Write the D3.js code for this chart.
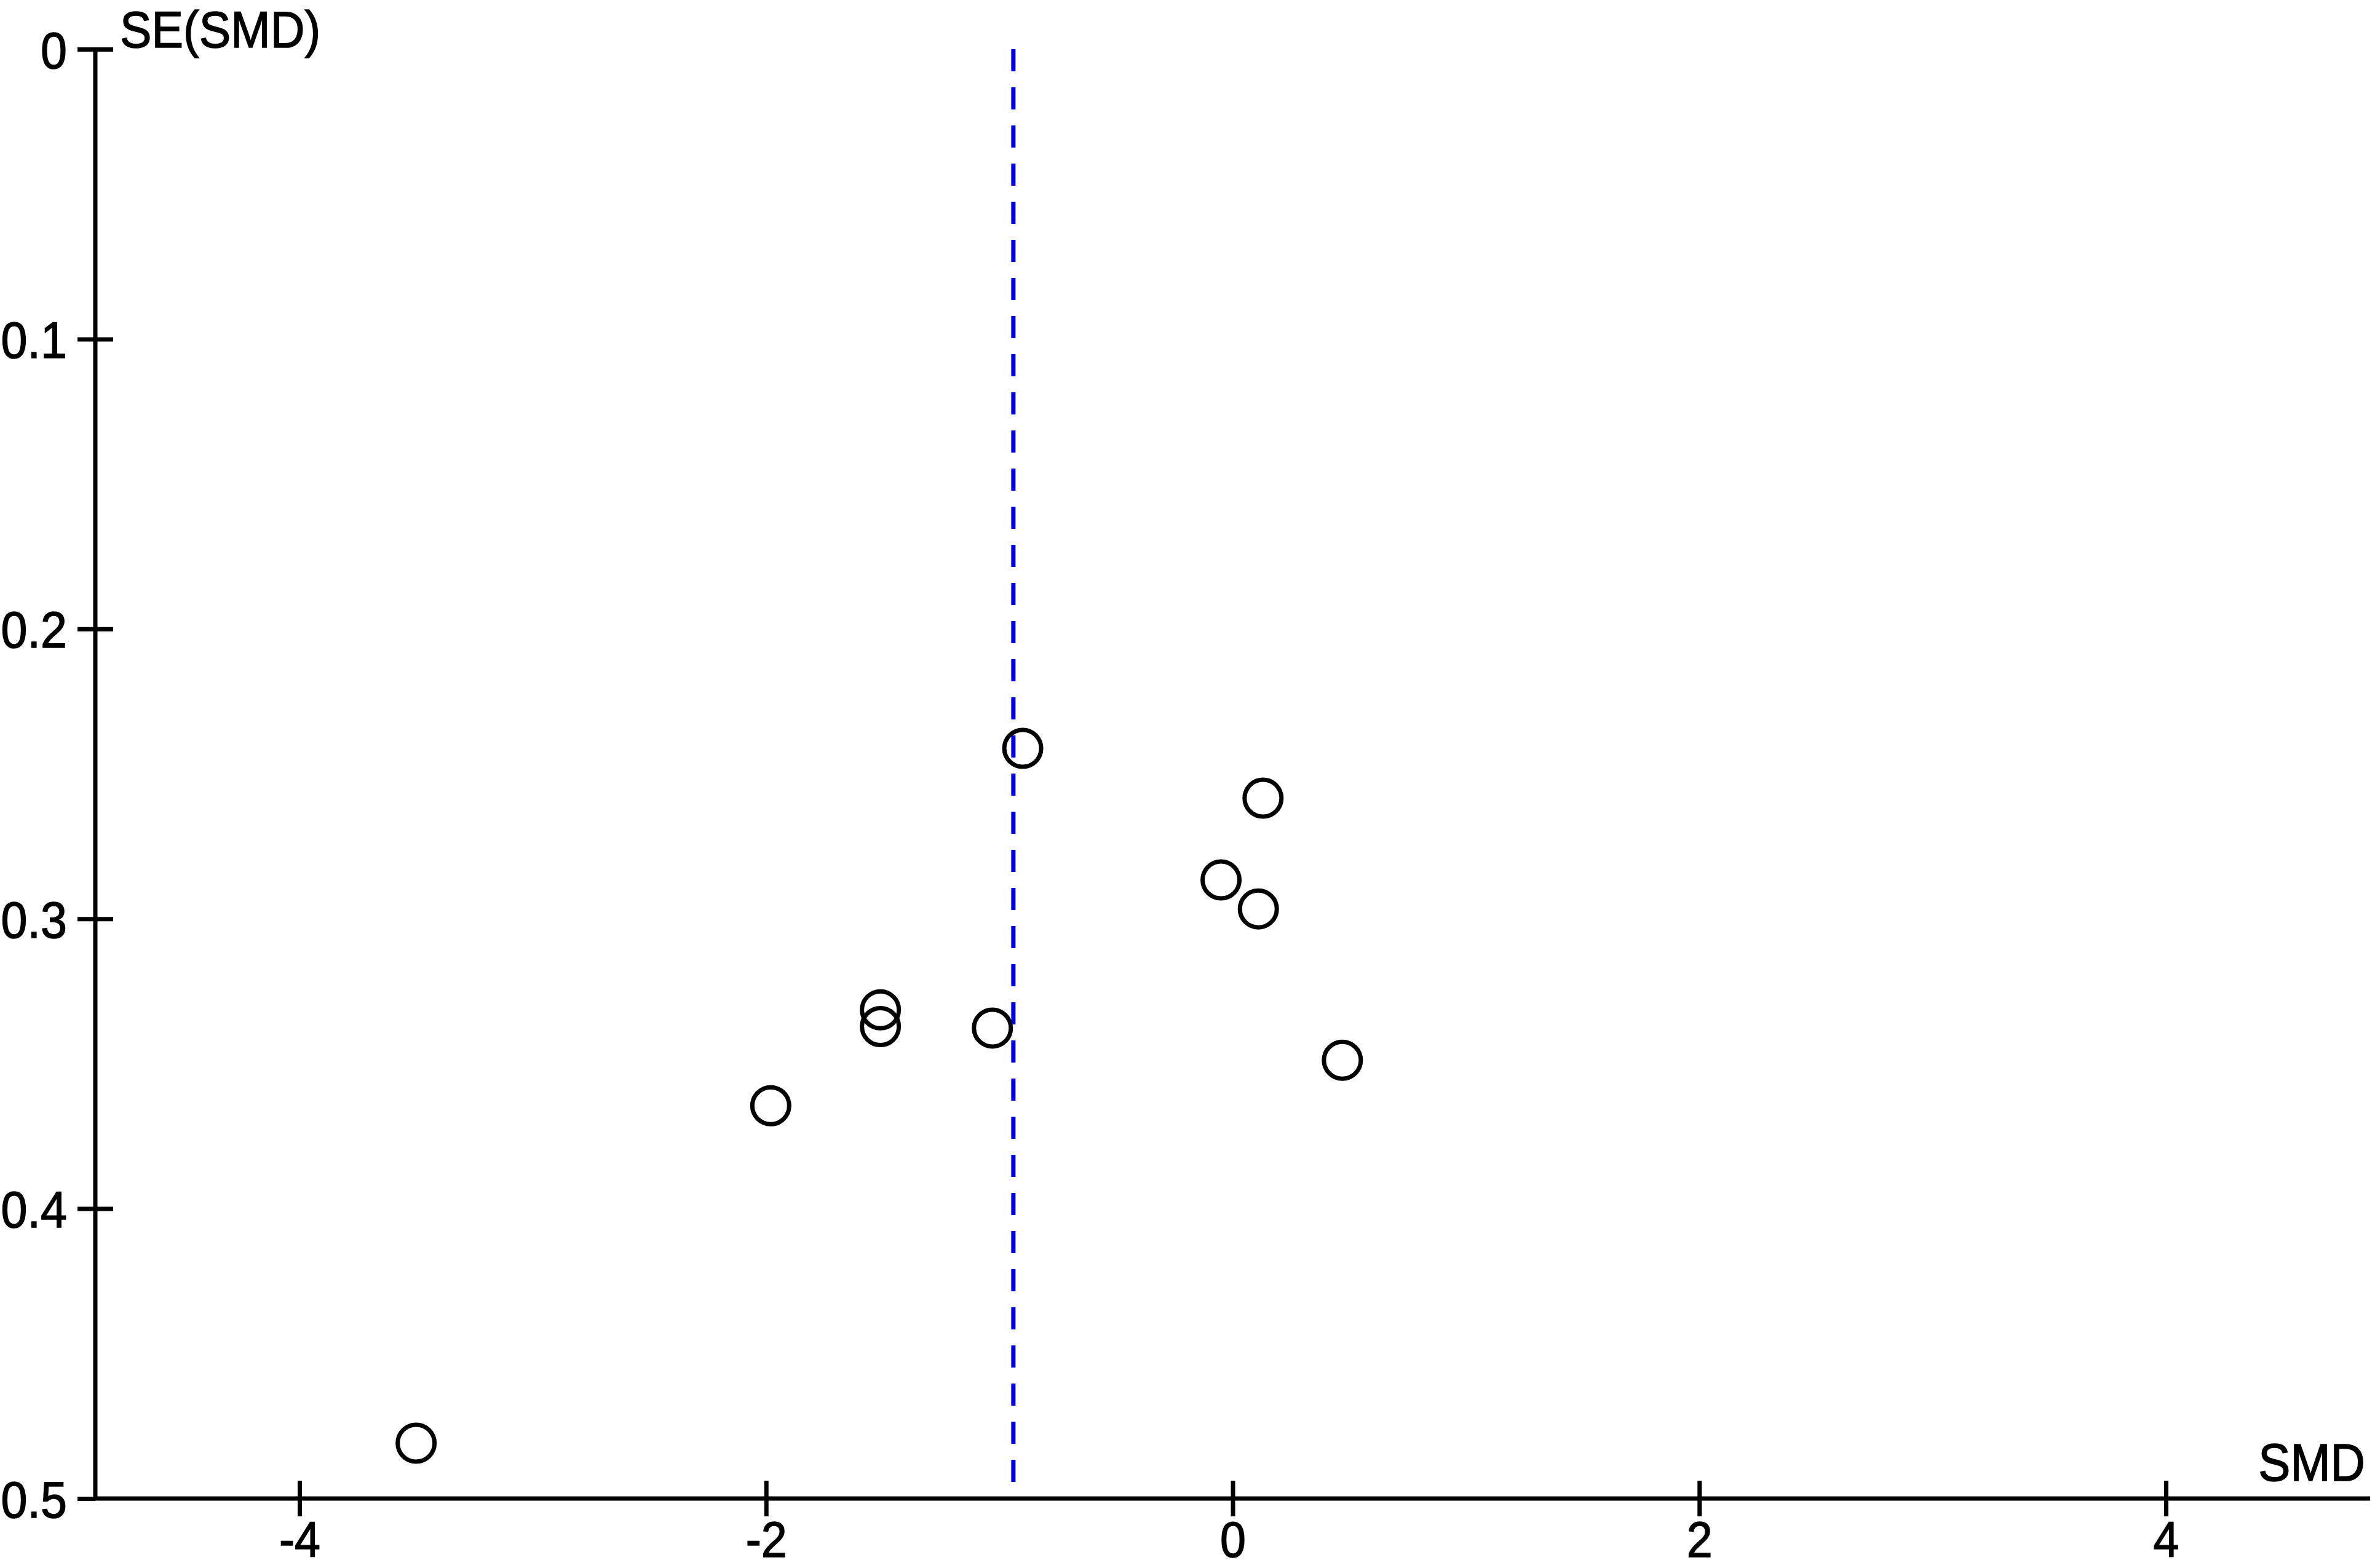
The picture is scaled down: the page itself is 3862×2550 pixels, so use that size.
<!DOCTYPE html>
<html>
<head>
<meta charset="utf-8">
<title>Funnel plot</title>
<script src="https://cdn.jsdelivr.net/npm/d3@7"></script>
<style>
    body { margin: 0; background: #fff; }
    svg { display: block; }
    text { font-family: "Liberation Sans", Arial, sans-serif; fill: #000; stroke: #000; stroke-width: 1.5px; }
</style>
</head>
<body>
<svg id="funnel" width="3862" height="2550"></svg>
<script>
// study estimates
const smd = [-0.90, 0.13, -0.05, 0.11, 0.47, -1.51, -1.51, -1.03, -1.98, -3.50];
const seSmd = [0.2412, 0.2584, 0.2866, 0.2966, 0.3488, 0.3314, 0.3372, 0.3377, 0.3645, 0.4809];
const pooledSmd = -0.94;

const xTicks = [-4, -2, 0, 2, 4];
const yTicks = [0, 0.1, 0.2, 0.3, 0.4, 0.5];

document.addEventListener("DOMContentLoaded", function() {
    const svg = d3.select("#funnel");
    const width = +svg.attr("width");
    const height = +svg.attr("height");

    svg.append("rect").attr("width", width).attr("height", height).attr("fill", "#fff");

    const x = d3.scaleLinear().domain([-4.875, 4.875]).range([155, 3854]);
    const y = d3.scaleLinear().domain([0, 0.5]).range([80, 2437]);

    const stroke = 7;
    const tickHalf = 29;

    // squeeze text horizontally, the original uses a narrow font
    function narrow(sel, k = 0.92) {
        sel.each(function() {
            const t = d3.select(this);
            const tx = +t.attr("x") || 0;
            const ty = +t.attr("y") || 0;
            t.attr("x", 0).attr("y", 0).attr("transform", `translate(${tx},${ty}) scale(${k},1)`);
        });
    }

    // x axis
    const xAxis = svg.append("g")
        .attr("transform", `translate(0,${y(0.5)})`)
        .call(d3.axisBottom(x).tickValues(xTicks).tickSizeOuter(0).tickFormat(d3.format("d")));
    xAxis.select(".domain").attr("stroke", "#000").attr("stroke-width", stroke).attr("d", `M${x.range()[0]},0H${x.range()[1]}`);
    xAxis.selectAll(".tick line").attr("stroke", "#000").attr("stroke-width", stroke)
        .attr("y1", -tickHalf).attr("y2", tickHalf);
    xAxis.selectAll(".tick text").attr("y", 95).attr("dy", 0)
        .style("font-size", "82px").text(d => d < 0 ? "-" + Math.abs(d) : d)
        .call(narrow);

    // y axis
    const yAxis = svg.append("g")
        .attr("transform", `translate(${x.range()[0]},0)`)
        .call(d3.axisLeft(y).tickValues(yTicks).tickSizeOuter(0).tickFormat(d => d === 0 ? "0" : d3.format(".1f")(d)));
    yAxis.select(".domain").attr("stroke", "#000").attr("stroke-width", stroke).attr("d", `M0,${y.range()[0]}V${y.range()[1]}`);
    yAxis.selectAll(".tick line").attr("stroke", "#000").attr("stroke-width", stroke)
        .attr("x1", -tickHalf).attr("x2", d => d === 0.5 ? 0 : tickHalf);
    yAxis.selectAll(".tick text").attr("x", -46).attr("y", 0).attr("dy", 30)
        .attr("text-anchor", "end").style("font-size", "84px")
        .call(narrow);

    // axis titles
    svg.append("text").attr("x", 195).attr("y", 77).style("font-size", "84px").text("SE(SMD)").call(narrow);
    svg.append("text").attr("x", 3846).attr("y", 2408).attr("text-anchor", "end")
        .style("font-size", "85px").text("SMD").call(narrow);

    // pooled estimate
    svg.append("line")
        .attr("x1", x(pooledSmd)).attr("x2", x(pooledSmd))
        .attr("y1", y(0)).attr("y2", 2414)
        .attr("stroke", "#0000d8").attr("stroke-width", stroke)
        .attr("stroke-dasharray", "36,26");

    // studies
    svg.selectAll("circle.study")
        .data(smd.map((d, i) => ({ x: d, se: seSmd[i] })))
        .enter().append("circle")
        .attr("class", "study")
        .attr("cx", d => x(d.x))
        .attr("cy", d => y(d.se))
        .attr("r", 30)
        .attr("fill", "none")
        .attr("stroke", "#000")
        .attr("stroke-width", stroke);
});
</script>
</body>
</html>
